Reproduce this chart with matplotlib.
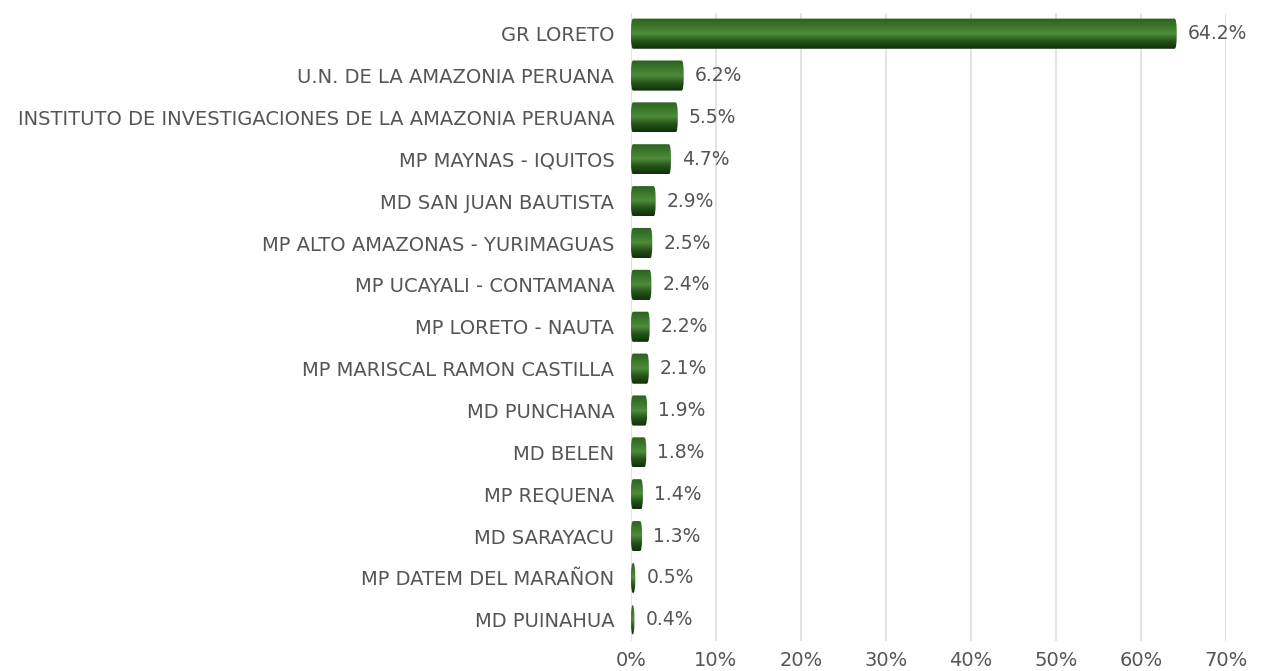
import numpy as np
import matplotlib
matplotlib.use("Agg")
import matplotlib.pyplot as plt
from matplotlib.patches import FancyBboxPatch
from matplotlib.colors import LinearSegmentedColormap

# data
entidades = [
    "GR LORETO",
    "U.N. DE LA AMAZONIA PERUANA",
    "INSTITUTO DE INVESTIGACIONES DE LA AMAZONIA PERUANA",
    "MP MAYNAS - IQUITOS",
    "MD SAN JUAN BAUTISTA",
    "MP ALTO AMAZONAS - YURIMAGUAS",
    "MP UCAYALI - CONTAMANA",
    "MP LORETO - NAUTA",
    "MP MARISCAL RAMON CASTILLA",
    "MD PUNCHANA",
    "MD BELEN",
    "MP REQUENA",
    "MD SARAYACU",
    "MP DATEM DEL MARAÑON",
    "MD PUINAHUA",
]
porcentaje = [64.2, 6.2, 5.5, 4.7, 2.9, 2.5, 2.4, 2.2, 2.1, 1.9, 1.8, 1.4, 1.3, 0.5, 0.4]
xticks = [0, 10, 20, 30, 40, 50, 60, 70]

txt = "#555555"
plt.rcParams['font.family'] = ['DejaVu Sans']

fig = plt.figure(figsize=(12.63, 6.71), dpi=100)
ax = fig.add_axes([0.4996, 0.045, 0.4711, 0.936])

# vertical gradient for the cylinder look (bottom dark -> highlight -> top)
cmap = LinearSegmentedColormap.from_list(
    "cyl", ["#10300a", "#245318", "#4d8c39", "#3c772b", "#2c6020"])
grad = np.linspace(0, 1, 64).reshape(-1, 1)

n = len(entidades)
ys = np.arange(n)[::-1]
h = 0.72
for y, v in zip(ys, porcentaje):
    im = ax.imshow(grad, aspect="auto", cmap=cmap, origin="lower",
                   extent=[0, v, y - h / 2, y + h / 2], zorder=3)
    patch = FancyBboxPatch((0, y - h / 2), v, h,
                           boxstyle="round,pad=0,rounding_size=0.25",
                           mutation_aspect=1.2, transform=ax.transData,
                           facecolor="none", edgecolor="none")
    ax.add_patch(patch)
    im.set_clip_path(patch)
    ax.text(v + 1.3, y, f"{v:.1f}%", va="center", ha="left",
            fontsize=13.5, color=txt)

ax.set_xlim(0, 70)
ax.set_ylim(-0.5, n - 0.5)
ax.set_xticks(xticks)
ax.set_xticklabels([f"{t}%" for t in xticks], fontsize=14, color=txt)
ax.set_yticks(ys)
ax.set_yticklabels(entidades, fontsize=14, color=txt)
ax.tick_params(axis="both", length=0)
ax.tick_params(axis="y", pad=12)
ax.tick_params(axis="x", pad=7)
ax.grid(axis="x", color="#dedede", linewidth=1.2, zorder=0)
ax.set_axisbelow(True)
for s in ax.spines.values():
    s.set_visible(False)

fig.savefig("out.png", dpi=100)
